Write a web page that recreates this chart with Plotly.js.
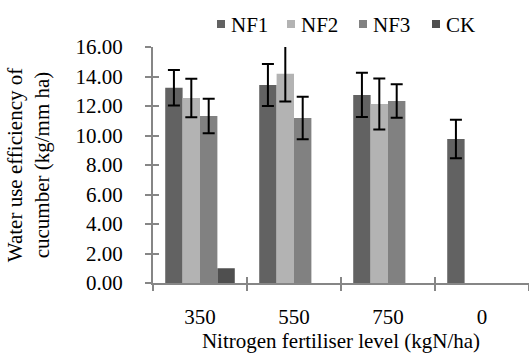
<!DOCTYPE html>
<html>
<head>
<meta charset="utf-8">
<script src="https://cdn.plot.ly/plotly-3.0.1.min.js"></script>
<style>
html,body{margin:0;padding:0;background:#fff;}
#chart{width:529px;height:360px;}
</style>
</head>
<body>
<div id="chart"></div>
<script>
var categories = ['350', '550', '750', '0'];
var seriesNames = ['NF1', 'NF2', 'NF3', 'CK'];
var nf1 = [13.24, 13.42, 12.75, 9.76];
var nf1Err = [1.2, 1.42, 1.5, 1.3];
var nf2 = [12.54, 14.19, 12.14, null];
var nf2Err = [1.3, 1.88, 1.73, null];
var nf3 = [11.32, 11.19, 12.34, null];
var nf3Err = [1.17, 1.44, 1.14, null];
var ck = [1.0, null, null, null];
var yTicks = [0, 2, 4, 6, 8, 10, 12, 14, 16];

var FONT = 'Times New Roman, Liberation Serif, serif';
var FS = 21;
var AXIS = '#868686';
var COLORS = ['#626262', '#b3b3b3', '#818181', '#4f4f4f'];

var M = {l: 153, r: 0, t: 47, b: 77};
var W = 529, H = 360;
var PW = W - M.l - M.r, PH = H - M.t - M.b;

function bar(i, y, err) {
  var t = {
    type: 'bar', name: seriesNames[i], x: categories, y: y,
    marker: {color: COLORS[i], line: {width: 0}}, showlegend: false
  };
  if (err) {
    t.error_y = {type: 'data', array: err, visible: true, color: '#000000', thickness: 2, width: 6};
  }
  return t;
}

var data = [
  bar(0, nf1, nf1Err),
  bar(1, nf2, nf2Err),
  bar(2, nf3, nf3Err),
  bar(3, ck, null)
];
// invisible helper trace so the secondary (tick-only) axes are drawn
data.push({type: 'scatter', x: categories, y: [0, 0, 0, 0], xaxis: 'x2', yaxis: 'y2',
           mode: 'markers', marker: {opacity: 0}, showlegend: false, hoverinfo: 'skip'});

// custom legend (squares + text) placed like the reference
var legendPx = [217, 287, 359, 432];
var legendCy = 24, sq = 8;
var shapes = [], annotations = [];
function px2x(p) { return (p - M.l) / PW; }
function py2y(p) { return (H - M.b - p) / PH; }
for (var i = 0; i < seriesNames.length; i++) {
  shapes.push({type: 'rect', xref: 'paper', yref: 'paper',
    x0: px2x(legendPx[i]), x1: px2x(legendPx[i] + sq),
    y0: py2y(legendCy + sq / 2), y1: py2y(legendCy - sq / 2),
    fillcolor: COLORS[i], line: {width: 0}});
  annotations.push({xref: 'paper', yref: 'paper', x: px2x(legendPx[i] + sq + 4), y: py2y(legendCy + 1),
    xanchor: 'left', yanchor: 'middle', showarrow: false, text: seriesNames[i],
    font: {family: FONT, size: FS, color: '#000'}});
}

var layout = {
  width: W, height: H,
  margin: M,
  paper_bgcolor: '#ffffff', plot_bgcolor: '#ffffff',
  font: {family: FONT, size: FS, color: '#000000'},
  barmode: 'group', bargap: 0.26, bargroupgap: 0,
  showlegend: false,
  shapes: shapes, annotations: annotations,
  xaxis: {
    type: 'category', categoryorder: 'array', categoryarray: categories,
    range: [-0.5, 3.5],
    showline: true, linecolor: AXIS, linewidth: 2,
    ticks: 'outside', tickson: 'boundaries', ticklen: 6, tickcolor: AXIS, tickwidth: 2,
    ticklabelstandoff: 14,
    showgrid: false, zeroline: false,
    tickfont: {family: FONT, size: FS, color: '#000'},
    title: {text: 'Nitrogen fertiliser level (kgN/ha)', font: {family: FONT, size: FS, color: '#000'}, standoff: 4},
    automargin: false
  },
  yaxis: {
    range: [0, 16], tickvals: yTicks, ticktext: yTicks.map(function(v){return v.toFixed(2);}),
    showline: true, linecolor: AXIS, linewidth: 2,
    ticks: 'outside', ticklen: 6, tickcolor: AXIS, tickwidth: 2,
    ticklabelstandoff: 18,
    showgrid: false, zeroline: false,
    tickfont: {family: FONT, size: FS, color: '#000'},
    title: {text: 'Water use efficiency of<br>cucumber (kg/mm ha)', font: {family: FONT, size: FS, color: '#000'}, standoff: 20},
    automargin: false
  },
  yaxis2: {
    overlaying: 'y', anchor: 'x', side: 'left', range: [0, 16], tickvals: yTicks,
    showticklabels: false, showline: false, showgrid: false, zeroline: false,
    ticks: 'inside', ticklen: 6, tickcolor: AXIS, tickwidth: 2
  },
  xaxis2: {
    overlaying: 'x', anchor: 'y', side: 'bottom', type: 'category',
    categoryorder: 'array', categoryarray: categories, range: [-0.5, 3.5],
    showticklabels: false, showline: false, showgrid: false, zeroline: false,
    ticks: 'inside', tickson: 'boundaries', ticklen: 6, tickcolor: AXIS, tickwidth: 2
  }
};

Plotly.newPlot('chart', data, layout, {displayModeBar: false, staticPlot: true});
</script>
</body>
</html>
